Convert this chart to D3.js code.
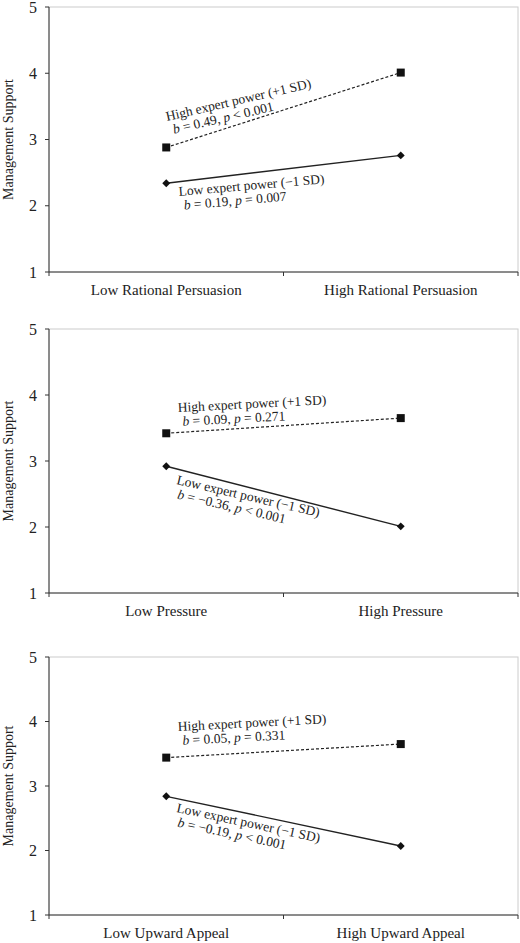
<!DOCTYPE html>
<html><head><meta charset="utf-8">
<script src="https://cdn.jsdelivr.net/npm/d3@7"></script>
<style>body{margin:0;background:#fff}text{font-family:"Liberation Serif","Times New Roman",serif;fill:#222}</style>
</head><body><svg id="c" width="520" height="943"></svg>
<script>
const xCategories = [
  ["Low Rational Persuasion", "High Rational Persuasion"],
  ["Low Pressure", "High Pressure"],
  ["Low Upward Appeal", "High Upward Appeal"]
];
const highExpert = [[2.88, 4.01], [3.42, 3.65], [3.44, 3.65]];
const lowExpert = [[2.34, 2.76], [2.92, 2.01], [2.84, 2.07]];
const highStats = ["b=0.49, p<0.001", "b=0.09, p=0.271", "b=0.05, p=0.331"];
const lowStats = ["b=0.19, p=0.007", "b=\u22120.36, p<0.001", "b=\u22120.19, p<0.001"];
const yTicks = [1, 2, 3, 4, 5];

// panel layout: top (y of 5) and bottom (y of 1)
const panels = [{top: 7, bot: 272}, {top: 329, bot: 593}, {top: 657, bot: 915}];
// label placement: [x, y, angle] for high and low annotations
const hiLab = [[167, 121, -13], [178, 412, -3], [178, 731, -3]];
const loLab = [[179, 196, -5], [176, 484, 13], [176, 812, 12]];

const svg = d3.select("#c");
const x0 = 49, x1 = 518;

panels.forEach((p, i) => {
  const g = svg.append("g");
  const y = d3.scaleLinear().domain([1, 5]).range([p.bot, p.top]);
  const x = d3.scalePoint().domain(xCategories[i]).range([x0, x1]).padding(0.5);

  g.append("rect").attr("x", x0).attr("y", p.top).attr("width", x1 - x0).attr("height", p.bot - p.top)
    .attr("fill", "none").attr("stroke", "#ccc");
  g.append("line").attr("x1", x0).attr("x2", x0).attr("y1", p.top).attr("y2", p.bot).attr("stroke", "#333");
  g.append("line").attr("x1", x0).attr("x2", x1).attr("y1", p.bot).attr("y2", p.bot).attr("stroke", "#333");
  [x0, (x0 + x1) / 2, x1].forEach(t => g.append("line").attr("x1", t).attr("x2", t)
    .attr("y1", p.bot).attr("y2", p.bot + 4).attr("stroke", "#333"));

  yTicks.forEach(t => {
    g.append("line").attr("x1", x0 - 4).attr("x2", x0).attr("y1", y(t)).attr("y2", y(t)).attr("stroke", "#333");
    g.append("text").attr("x", x0 - 12).attr("y", y(t)).attr("dy", "0.35em").attr("text-anchor", "end")
      .attr("font-size", 16).text(t);
  });
  xCategories[i].forEach(c => g.append("text").attr("x", x(c)).attr("y", p.bot + 23)
    .attr("text-anchor", "middle").attr("font-size", 15).text(c));
  g.append("text").attr("transform", `translate(13,${(p.top + p.bot) / 2}) rotate(-90)`)
    .attr("text-anchor", "middle").attr("font-size", 14).text("Management Support");

  const line = d3.line().x((d, j) => x(xCategories[i][j])).y(d => y(d));
  g.append("path").attr("d", line(highExpert[i])).attr("fill", "none").attr("stroke", "#222")
    .attr("stroke-dasharray", "3,2").attr("stroke-width", 1.2);
  g.append("path").attr("d", line(lowExpert[i])).attr("fill", "none").attr("stroke", "#222").attr("stroke-width", 1.4);
  highExpert[i].forEach((v, j) => g.append("rect").attr("x", x(xCategories[i][j]) - 4).attr("y", y(v) - 4)
    .attr("width", 8).attr("height", 8).attr("fill", "#111"));
  lowExpert[i].forEach((v, j) => g.append("path").attr("d", d3.symbol(d3.symbolDiamond2, 40)())
    .attr("transform", `translate(${x(xCategories[i][j])},${y(v)})`).attr("fill", "#111"));

  const ann = (pos, title, stat) => {
    const t = g.append("g").attr("transform", `translate(${pos[0]},${pos[1]}) rotate(${pos[2]})`);
    t.append("text").attr("font-size", 13.5).text(title);
    const s = t.append("text").attr("x", 4).attr("y", 14).attr("font-size", 13.5);
    const m = stat.match(/b=(.*), p(.)(.*)/);
    s.append("tspan").attr("font-style", "italic").text("b");
    s.append("tspan").text(" = " + m[1] + ", ");
    s.append("tspan").attr("font-style", "italic").text("p");
    s.append("tspan").text(" " + m[2] + " " + m[3]);
  };
  ann(hiLab[i], "High expert power (+1 SD)", highStats[i]);
  ann(loLab[i], "Low expert power (\u22121 SD)", lowStats[i]);
});
</script></body></html>
